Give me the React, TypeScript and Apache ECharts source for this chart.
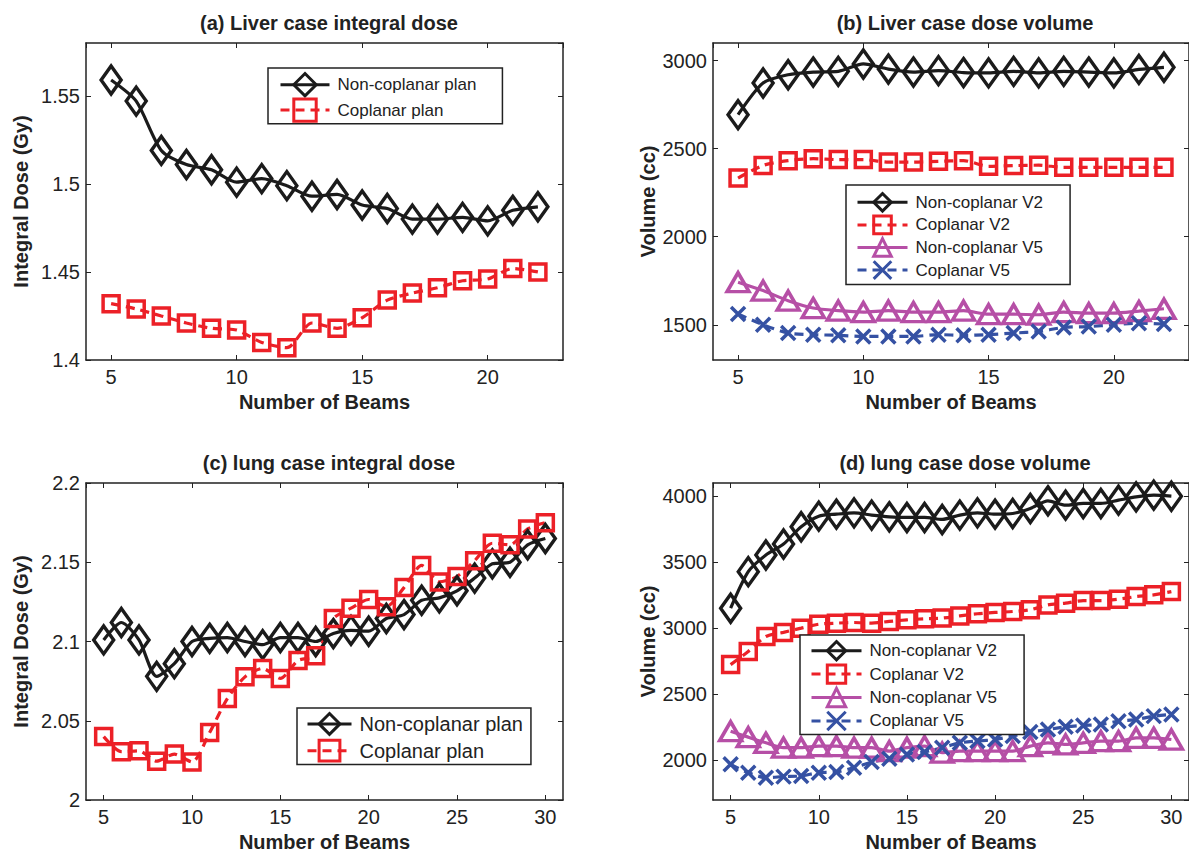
import React, { useEffect, useRef } from "react";
import * as echarts from "echarts";

const FONT = '"Liberation Sans", Arial, Helvetica, sans-serif';
const INK = "#222";
const BLACK = "#1b1b1b";
const RED = "#ec2027";
const MAGENTA = "#b64fa6";
const BLUE = "#3551a3";

// ---------- data ----------
const beamsLiver = [5, 6, 7, 8, 9, 10, 11, 12, 13, 14, 15, 16, 17, 18, 19, 20, 21, 22];
const beamsLung = [5, 6, 7, 8, 9, 10, 11, 12, 13, 14, 15, 16, 17, 18, 19, 20, 21, 22, 23, 24, 25, 26, 27, 28, 29, 30];

const liverDoseNonCoplanar = [1.559, 1.547, 1.519, 1.511, 1.508, 1.501, 1.503, 1.499, 1.493, 1.494, 1.488, 1.486, 1.480, 1.480, 1.481, 1.479, 1.485, 1.487];
const liverDoseCoplanar = [1.432, 1.429, 1.425, 1.421, 1.418, 1.417, 1.410, 1.407, 1.421, 1.418, 1.424, 1.434, 1.438, 1.441, 1.445, 1.446, 1.452, 1.450];

const liverV2NonCoplanar = [2693, 2873, 2920, 2935, 2939, 2981, 2952, 2935, 2943, 2932, 2930, 2939, 2930, 2939, 2935, 2930, 2950, 2962];
const liverV2Coplanar = [2333, 2405, 2432, 2443, 2438, 2438, 2424, 2424, 2428, 2432, 2400, 2404, 2406, 2394, 2394, 2394, 2394, 2394];
const liverV5NonCoplanar = [1742, 1694, 1637, 1595, 1580, 1572, 1580, 1572, 1572, 1580, 1560, 1560, 1557, 1572, 1566, 1566, 1578, 1591];
const liverV5Coplanar = [1561, 1500, 1453, 1444, 1440, 1434, 1434, 1434, 1444, 1440, 1444, 1453, 1462, 1485, 1490, 1500, 1509, 1504];

const lungDoseNonCoplanar = [2.101, 2.112, 2.101, 2.078, 2.086, 2.100, 2.102, 2.1025, 2.100, 2.098, 2.1025, 2.1025, 2.100, 2.105, 2.107, 2.1065, 2.1145, 2.117, 2.126, 2.1275, 2.132, 2.140, 2.149, 2.150, 2.161, 2.165];
const lungDoseCoplanar = [2.040, 2.0305, 2.031, 2.0245, 2.029, 2.024, 2.0426, 2.064, 2.0777, 2.083, 2.0767, 2.088, 2.091, 2.1145, 2.121, 2.1265, 2.122, 2.134, 2.148, 2.1376, 2.141, 2.151, 2.162, 2.161, 2.171, 2.175];

const lungV2NonCoplanar = [3152, 3429, 3555, 3638, 3769, 3849, 3864, 3874, 3857, 3844, 3839, 3839, 3824, 3857, 3874, 3864, 3869, 3907, 3965, 3932, 3945, 3945, 3970, 3995, 4008, 4000];
const lungV2Coplanar = [2725, 2825, 2938, 2969, 3001, 3031, 3039, 3044, 3039, 3052, 3064, 3072, 3077, 3094, 3110, 3120, 3127, 3140, 3177, 3190, 3210, 3210, 3220, 3240, 3253, 3278];
const lungV5NonCoplanar = [2221, 2176, 2133, 2096, 2096, 2108, 2108, 2096, 2096, 2070, 2096, 2108, 2058, 2070, 2070, 2070, 2070, 2108, 2133, 2121, 2133, 2146, 2146, 2171, 2171, 2158];
const lungV5Coplanar = [1970, 1907, 1869, 1877, 1882, 1907, 1912, 1945, 1987, 2013, 2045, 2063, 2096, 2133, 2146, 2158, 2184, 2214, 2234, 2254, 2264, 2272, 2297, 2309, 2335, 2347];

const titles = ["(a) Liver case integral dose", "(b) Liver case dose volume", "(c) lung case integral dose", "(d) lung case dose volume"];
const xAxisName = "Number of Beams";
const doseAxisName = "Integral Dose (Gy)";
const volumeAxisName = "Volume (cc)";
const planNames = ["Non-coplanar plan", "Coplanar plan"];
const volumeNames = ["Non-coplanar V2", "Coplanar V2", "Non-coplanar V5", "Coplanar V5"];

// ---------- layout ----------
const grids = [
  { left: 86, top: 43, width: 477, height: 317 },
  { left: 713, top: 43, width: 479, height: 317 },
  { left: 86, top: 483, width: 477, height: 319 },
  { left: 713, top: 483, width: 479, height: 319 },
];

const pairs = (xs: number[], ys: number[]) => xs.map((x, i) => [x, ys[i]]);

const X_PATH = "path://M0,0L10,10M10,0L0,10";

const styles: Record<string, any> = {
  nonV2: { color: BLACK, dash: "solid", symbol: "diamond", size: [20, 28] },
  copV2: { color: RED, dash: [9, 6], symbol: "rect", size: 16 },
  nonV5: { color: MAGENTA, dash: "solid", symbol: "triangle", size: [22, 19] },
  copV5: { color: BLUE, dash: [9, 6], symbol: X_PATH, size: 14 },
};

function mkSeries(name: string, st: any, data: number[][], axisIdx: number) {
  return {
    type: "line",
    name,
    xAxisIndex: axisIdx,
    yAxisIndex: axisIdx,
    data,
    smooth: 0.25,
    symbol: st.symbol,
    symbolSize: st.size,
    showSymbol: true,
    lineStyle: { color: st.color, width: 3.2, type: st.dash },
    itemStyle: { color: "rgba(255,255,255,0)", borderColor: st.color, borderWidth: 3.5 },
    emphasis: { disabled: true },
    z: 3,
  };
}

const plainNum = (v: number) => String(Math.round(v * 1000) / 1000);

function mkX(gridIndex: number, max: number, top: boolean) {
  return {
    type: "value",
    gridIndex,
    min: 4,
    max,
    minInterval: 5,
    maxInterval: 5,
    splitNumber: 4,
    position: top ? "top" : "bottom",
    name: top ? "" : xAxisName,
    nameLocation: "middle",
    nameGap: 32,
    nameTextStyle: { fontFamily: FONT, fontSize: 20, fontWeight: "bold", color: INK },
    axisLine: { show: true, onZero: false, lineStyle: { color: INK, width: 1.5 } },
    axisTick: { show: true, inside: true, length: 5, lineStyle: { color: INK, width: 1 } },
    axisLabel: { show: !top, showMinLabel: false, showMaxLabel: false, margin: 7, fontFamily: FONT, fontSize: 20, color: INK, formatter: plainNum },
    splitLine: { show: false },
  };
}

function mkY(gridIndex: number, min: number, max: number, step: number, right: boolean, name: string, showMin: boolean, showMax: boolean) {
  return {
    type: "value",
    gridIndex,
    min,
    max,
    minInterval: step,
    maxInterval: step,
    splitNumber: 4,
    position: right ? "right" : "left",
    name: right ? "" : name,
    nameLocation: "middle",
    nameGap: 55,
    nameTextStyle: { fontFamily: FONT, fontSize: 20, fontWeight: "bold", color: INK },
    axisLine: { show: true, onZero: false, lineStyle: { color: INK, width: 1.5 } },
    axisTick: { show: true, inside: true, length: 5, lineStyle: { color: INK, width: 1 } },
    axisLabel: { show: !right, showMinLabel: showMin, showMaxLabel: showMax, margin: 6, fontFamily: FONT, fontSize: 20, color: INK, formatter: plainNum },
    splitLine: { show: false },
  };
}

function mkLegend(names: string[], left: number, top: number, padding: number[], itemHeight: number, itemGap: number, fontSize: number, itemWidth: number) {
  return {
    orient: "vertical",
    left,
    top,
    padding,
    itemWidth,
    itemHeight,
    itemGap,
    selectedMode: false,
    borderColor: INK,
    borderWidth: 1.5,
    borderRadius: 0,
    backgroundColor: "#fff",
    itemStyle: { borderWidth: 3 },
    lineStyle: { width: 3 },
    textStyle: { fontFamily: FONT, fontSize, color: INK, padding: [0, 0, 0, 3] },
    data: names,
    z: 10,
  };
}

export default function App() {
  const ref = useRef<HTMLDivElement>(null);
  useEffect(() => {
    if (!ref.current) return;
    const chart = echarts.init(ref.current, undefined, { renderer: "svg" });
    const option: any = {
      animation: false,
      backgroundColor: "#fff",
      title: grids.map((g, i) => ({
        text: titles[i],
        left: i % 2 === 1 ? 960 : 324,
        top: g.top - 35,
        textAlign: "center",
        textStyle: { fontFamily: FONT, fontSize: 20, fontWeight: "bold", color: INK },
      })),
      grid: grids.map((g) => ({ ...g, containLabel: false })),
      xAxis: [
        mkX(0, 23, false), mkX(0, 23, true),
        mkX(1, 23, false), mkX(1, 23, true),
        mkX(2, 31, false), mkX(2, 31, true),
        mkX(3, 31, false), mkX(3, 31, true),
      ],
      yAxis: [
        mkY(0, 1.4, 1.58, 0.05, false, doseAxisName, true, false), mkY(0, 1.4, 1.58, 0.05, true, doseAxisName, true, false),
        mkY(1, 1300, 3100, 500, false, volumeAxisName, false, false), mkY(1, 1300, 3100, 500, true, volumeAxisName, false, false),
        mkY(2, 2.0, 2.2, 0.05, false, doseAxisName, true, true), mkY(2, 2.0, 2.2, 0.05, true, doseAxisName, true, true),
        mkY(3, 1700, 4100, 500, false, volumeAxisName, false, false), mkY(3, 1700, 4100, 500, true, volumeAxisName, false, false),
      ],
      legend: [
        mkLegend(planNames, 268, 68, [4, 26, 1, 11], 28, 0, 17, 49),
        mkLegend(volumeNames, 846, 185, [7, 27, 4, 10], 22, 2, 17, 50),
        mkLegend(planNames, 297, 708, [4, 8, 2, 9], 26, 3, 20, 44),
        mkLegend(volumeNames, 800, 635, [5, 27, 3, 10], 23, 2, 17, 50),
      ],
      series: [
        mkSeries(planNames[0], styles.nonV2, pairs(beamsLiver, liverDoseNonCoplanar), 0),
        mkSeries(planNames[1], styles.copV2, pairs(beamsLiver, liverDoseCoplanar), 0),
        mkSeries(volumeNames[0], styles.nonV2, pairs(beamsLiver, liverV2NonCoplanar), 2),
        mkSeries(volumeNames[1], styles.copV2, pairs(beamsLiver, liverV2Coplanar), 2),
        mkSeries(volumeNames[2], styles.nonV5, pairs(beamsLiver, liverV5NonCoplanar), 2),
        mkSeries(volumeNames[3], styles.copV5, pairs(beamsLiver, liverV5Coplanar), 2),
        mkSeries(planNames[0], styles.nonV2, pairs(beamsLung, lungDoseNonCoplanar), 4),
        mkSeries(planNames[1], styles.copV2, pairs(beamsLung, lungDoseCoplanar), 4),
        mkSeries(volumeNames[0], styles.nonV2, pairs(beamsLung, lungV2NonCoplanar), 6),
        mkSeries(volumeNames[1], styles.copV2, pairs(beamsLung, lungV2Coplanar), 6),
        mkSeries(volumeNames[2], styles.nonV5, pairs(beamsLung, lungV5NonCoplanar), 6),
        mkSeries(volumeNames[3], styles.copV5, pairs(beamsLung, lungV5Coplanar), 6),
      ],
    };
    chart.setOption(option);
    return () => chart.dispose();
  }, []);
  return <div ref={ref} style={{ position: "fixed", left: 0, top: 0, width: 1189, height: 853, background: "#fff" }} />;
}
